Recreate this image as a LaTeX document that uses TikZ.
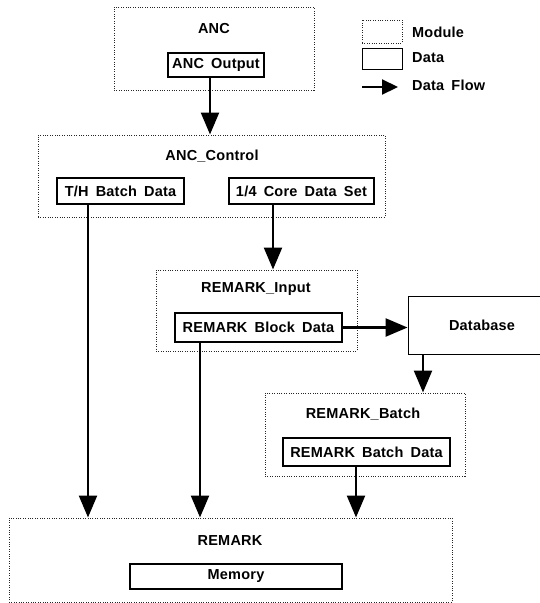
\documentclass[tikz,border=0pt]{standalone}
\usepackage{fontspec}
\setmainfont{Liberation Sans}[WordSpace=1.7,LetterSpace=1.5]
\usetikzlibrary{arrows.meta}
\begin{document}
\begin{tikzpicture}[x=1pt,y=-1pt,
  font=\fontsize{14.5}{16}\selectfont\bfseries,
  module/.style={draw=black!85,dash pattern=on 1pt off 1.4pt,line width=1pt,inner sep=0pt},
  databox/.style={draw=black,line width=1.2pt,inner sep=0pt},
  lbl/.style={inner sep=0pt},
  flow/.style={line width=2.4pt,-{Triangle[length=22pt,width=18pt]}}]
\useasboundingbox (0,0) rectangle (540,603);
\begin{scope}
\clip (0,0) rectangle (540,603);
% modules
\node[module,minimum width=200pt,minimum height=83pt] (anc) at (214,48.5) {};
\node[lbl] (ancl) at (214,29) {ANC};
\node[databox,minimum width=96pt,minimum height=24pt] (ancout) at (216,65) {ANC Output};

\node[module,minimum width=347pt,minimum height=82pt] (ctrl) at (211.5,176) {};
\node[lbl] (ctrll) at (212,156) {ANC\_Control};
\node[databox,minimum width=127pt,minimum height=26pt] (th) at (120.5,191) {T/H Batch Data};
\node[databox,minimum width=145pt,minimum height=26pt] (core) at (301.5,191) {1/4 Core Data Set};

\node[module,minimum width=201pt,minimum height=81pt] (rin) at (256.5,310.5) {};
\node[lbl] (rinl) at (256,289) {REMARK\_Input};
\node[databox,minimum width=167pt,minimum height=29pt] (blk) at (258.5,327.5) {REMARK Block Data};

\node[databox,line width=0.9pt,minimum width=148pt,minimum height=58pt] (db) at (482,325) {Database};

\node[module,minimum width=200pt,minimum height=83pt] (rb) at (365,434.5) {};
\node[lbl] (rbl) at (363,414) {REMARK\_Batch};
\node[databox,minimum width=167pt,minimum height=28pt] (bd) at (366.5,452) {REMARK Batch Data};

\node[module,minimum width=443pt,minimum height=84pt] (rem) at (230.5,560) {};
\node[lbl] (reml) at (230,541) {REMARK};
\node[databox,minimum width=212pt,minimum height=25pt] (mem) at (236,576.5) {Memory};

% legend
\node[module,minimum width=40pt,minimum height=23pt] (legm) at (382,31.5) {};
\node[databox,line width=0.9pt,minimum width=40pt,minimum height=21pt] (legd) at (382,58.5) {};
\coordinate (lega) at (362,87);
\coordinate (legb) at (398,87);
\node[lbl,anchor=west] (legmt) at (412,32) {Module};
\node[lbl,anchor=west] (legdt) at (412,58) {Data};
\node[lbl,anchor=west] (legft) at (412,85) {Data Flow};
\draw[line width=2.2pt,-{Triangle[length=16pt,width=15pt]}] (lega) -- (legb);

% flows
\draw[flow] ([xshift=-6pt]ancout.south) -- ([xshift=-6pt]ancout.south |- ctrl.north);
\draw[flow] ([xshift=-32.5pt]th.south) -- ([xshift=-32.5pt]th.south |- rem.north);
\draw[flow] ([xshift=-28.5pt]core.south) -- ([xshift=-28.5pt]core.south |- rin.north);
\draw[flow] ([xshift=-58.5pt]blk.south) -- ([xshift=-58.5pt]blk.south |- rem.north);
\draw[flow] (blk.east) -- (blk.east -| db.west);
\draw[flow] ([xshift=-59pt]db.south) -- ([xshift=-59pt]db.south |- rb.north);
\draw[flow] ([xshift=-10.5pt]bd.south) -- ([xshift=-10.5pt]bd.south |- rem.north);
\end{scope}
\end{tikzpicture}
\end{document}
